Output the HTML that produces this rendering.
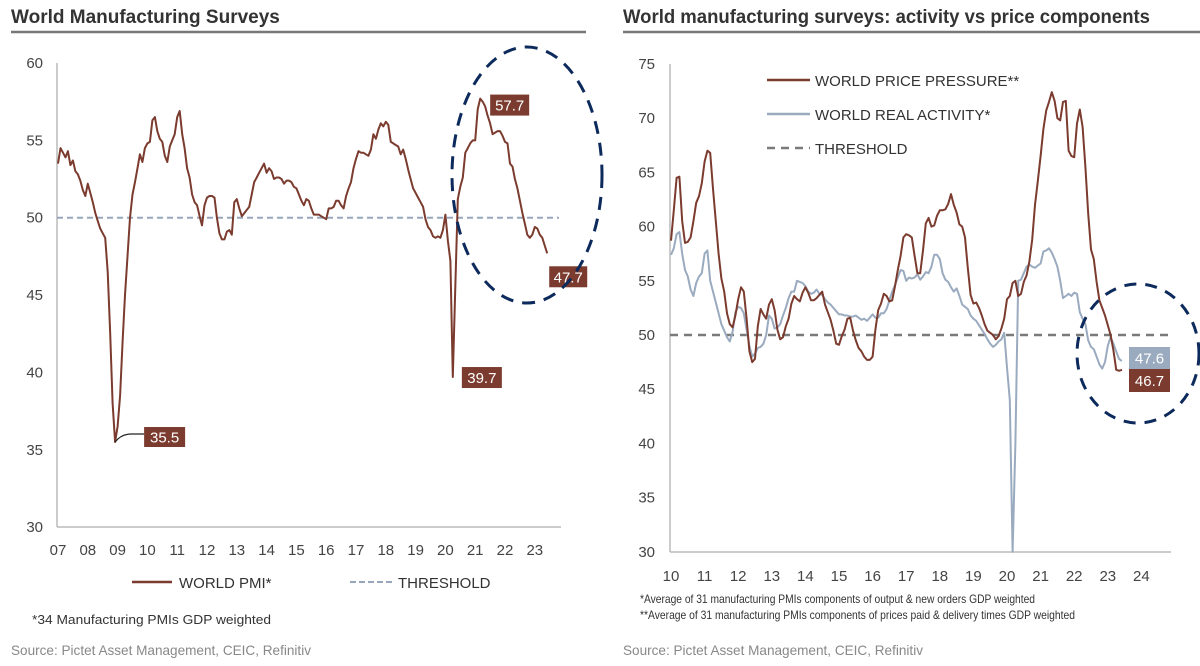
<!DOCTYPE html>
<html><head><meta charset="utf-8"><style>
html,body{margin:0;padding:0;background:#fff;}
svg{display:block;font-family:"Liberation Sans",sans-serif;}
</style></head><body>
<svg id="root" width="1200" height="666" viewBox="0 0 1200 666">
<g id="left">
<text x="11" y="23" font-size="19" font-weight="bold" fill="#333">World Manufacturing Surveys</text>
<line x1="11" y1="32" x2="586" y2="32" stroke="#777" stroke-width="2.5"/>
<line x1="57" y1="63" x2="57" y2="527" stroke="#bbb" stroke-width="1.5"/>
<line x1="57" y1="527" x2="561" y2="527" stroke="#bbb" stroke-width="1.5"/>
<g id="lyt"></g>
<g id="lxt"></g>
<line id="lthr" stroke="#97a6bb" stroke-width="2" stroke-dasharray="6,4"/>
<path id="lpmi" fill="none" stroke="#7b3b2e" stroke-width="2" stroke-linejoin="round"/>
<g id="llab"></g>
<ellipse cx="527" cy="175" rx="75" ry="128" fill="none" stroke="#0d2a5c" stroke-width="3" stroke-dasharray="13,9"/>
<line x1="132" y1="582" x2="172" y2="582" stroke="#7b3b2e" stroke-width="2.5"/>
<text x="179" y="588" font-size="15" fill="#333">WORLD PMI*</text>
<line x1="350" y1="582" x2="392" y2="582" stroke="#97a6bb" stroke-width="2" stroke-dasharray="6,3"/>
<text x="398" y="588" font-size="15" fill="#333">THRESHOLD</text>
<text x="32" y="624" font-size="13" fill="#333" textLength="239" lengthAdjust="spacingAndGlyphs">*34 Manufacturing PMIs GDP weighted</text>
<text x="11" y="655" font-size="14" fill="#888" textLength="300" lengthAdjust="spacingAndGlyphs">Source: Pictet Asset Management, CEIC, Refinitiv</text>
</g>
<g id="right">
<text x="623" y="23" font-size="19" font-weight="bold" fill="#333" textLength="527" lengthAdjust="spacingAndGlyphs">World manufacturing surveys: activity vs price components</text>
<line x1="623" y1="32" x2="1200" y2="32" stroke="#777" stroke-width="2.5"/>
<line x1="670" y1="64" x2="670" y2="552" stroke="#bbb" stroke-width="1.5"/>
<line x1="670" y1="552" x2="1171" y2="552" stroke="#bbb" stroke-width="1.5"/>
<g id="ryt"></g>
<g id="rxt"></g>
<line id="rthr" stroke="#7a7a7a" stroke-width="2.5" stroke-dasharray="8,6"/>
<path id="ract" fill="none" stroke="#9aaabf" stroke-width="2" stroke-linejoin="round"/>
<path id="rprice" fill="none" stroke="#7b3b2e" stroke-width="2" stroke-linejoin="round"/>
<g id="rlab"></g>
<ellipse cx="1138" cy="353.5" rx="61" ry="69.5" fill="none" stroke="#0d2a5c" stroke-width="3" stroke-dasharray="12,9"/>
<line x1="767" y1="80" x2="810" y2="80" stroke="#7b3b2e" stroke-width="2.5"/>
<text x="815" y="86" font-size="15" fill="#333">WORLD PRICE PRESSURE**</text>
<line x1="767" y1="114" x2="810" y2="114" stroke="#9aaabf" stroke-width="2.5"/>
<text x="815" y="120" font-size="15" fill="#333">WORLD REAL ACTIVITY*</text>
<line x1="767" y1="148" x2="810" y2="148" stroke="#7a7a7a" stroke-width="2.5" stroke-dasharray="8,6"/>
<text x="815" y="154" font-size="15" fill="#333">THRESHOLD</text>
<text x="640" y="603" font-size="12" fill="#333" textLength="395" lengthAdjust="spacingAndGlyphs">*Average of 31 manufacturing PMIs components of output &amp; new orders GDP weighted</text>
<text x="640" y="619" font-size="12" fill="#333" textLength="435" lengthAdjust="spacingAndGlyphs">**Average of 31 manufacturing PMIs components of prices paid &amp; delivery times GDP weighted</text>
<text x="623" y="655" font-size="14" fill="#888" textLength="300" lengthAdjust="spacingAndGlyphs">Source: Pictet Asset Management, CEIC, Refinitiv</text>
</g>
</svg>
<script>
// Left chart data: monthly from Jan 2007
const pmiStartYear = 2007;
const pmiValues = [53.5,54.5,54.2,53.9,54.3,53.4,53.7,53.0,52.8,52.4,51.8,51.4,
52.2,51.6,51.0,50.3,49.8,49.3,49.0,48.7,46.5,42.5,38.0,35.5,
36.5,38.5,42.0,45.0,47.5,50.0,51.5,52.3,53.2,54.1,53.6,54.5,
54.8,54.9,56.3,56.5,55.6,55.1,54.9,54.0,53.6,54.6,55.0,55.4,
56.5,56.9,55.4,54.5,53.2,52.6,51.5,51.0,50.8,50.1,49.5,50.8,
51.3,51.4,51.4,51.3,50.0,49.0,48.6,48.6,49.1,49.2,48.9,51.0,
51.2,50.6,50.1,50.3,50.5,50.7,51.5,52.3,52.6,52.9,53.2,53.5,
52.9,53.2,53.0,52.5,52.6,52.6,52.5,52.2,52.4,52.4,52.3,52.0,
51.9,51.5,51.1,50.8,51.2,51.1,50.6,50.2,50.2,50.2,50.1,50.0,
49.9,50.6,50.6,50.7,51.1,51.1,50.8,50.6,51.4,51.9,52.3,53.2,
53.8,54.3,54.2,54.2,54.1,54.0,54.4,55.4,55.1,55.7,56.1,55.9,
56.2,56.0,54.9,54.8,54.7,54.6,54.1,54.4,53.8,53.1,52.5,51.9,
51.6,51.3,51.0,50.7,49.9,49.4,49.2,48.8,48.7,48.8,48.7,49.2,
50.2,48.5,47.2,39.7,45.5,51.2,52.0,52.6,54.2,54.5,54.8,55.0,
55.0,57.0,57.7,57.5,57.2,56.6,56.1,55.4,55.5,55.6,55.6,55.3,
54.9,54.8,53.5,53.3,52.5,51.9,51.1,50.3,49.6,48.9,48.7,48.9,
49.4,49.3,48.9,48.7,48.2,47.7];
const pmiYTicks = [30,35,40,45,50,55,60];
const pmiXLabels = ["07","08","09","10","11","12","13","14","15","16","17","18","19","20","21","22","23"];
const pmiThreshold = 50;

// Right chart data: monthly from Jan 2010
const compStartYear = 2010;
const priceValues = [58.7,61.5,64.5,64.6,60.5,58.5,58.6,59.0,60.5,62.2,62.8,64.0,
66.0,67.0,66.8,63.5,60.5,57.5,55.2,54.0,52.0,51.0,50.7,51.8,
53.3,54.4,54.0,51.5,48.5,47.5,47.8,50.8,52.4,51.9,51.5,52.8,
53.3,52.3,50.5,49.6,49.8,50.8,51.5,52.9,53.6,53.3,53.1,53.9,
54.4,53.9,53.2,53.2,53.4,53.7,54.0,52.8,52.1,51.4,50.4,49.2,
49.1,49.9,50.5,51.5,51.6,50.4,49.5,48.8,48.5,48.0,47.7,47.7,
48.0,50.5,52.3,52.9,53.8,53.6,53.1,53.2,54.5,56.0,57.3,59.0,
59.3,59.2,59.0,57.3,55.7,55.7,57.8,60.3,60.8,60.0,60.1,61.0,
61.5,61.5,61.6,62.1,63.0,62.0,61.3,60.2,60.0,59.0,56.2,53.7,
52.9,53.0,52.5,51.8,51.0,50.4,50.2,50.0,49.6,49.9,50.6,51.5,
53.3,53.6,54.8,55.0,53.6,53.8,54.9,55.5,56.8,58.8,62.0,64.2,
66.5,69.0,70.7,71.5,72.4,71.6,70.0,69.8,71.5,71.6,67.0,66.5,
66.4,69.5,70.8,69.2,65.5,61.2,57.9,57.0,54.9,53.2,52.5,51.8,
50.9,50.0,48.6,46.8,46.7];
const activityValues = [57.4,58.0,59.3,59.5,57.5,56.0,55.4,54.2,53.6,54.8,55.4,55.7,
57.5,57.8,55.0,54.0,53.0,52.0,51.0,50.4,49.8,49.4,50.3,52.1,
52.6,52.5,52.0,50.5,49.0,48.0,48.3,48.8,48.9,49.2,50.0,51.8,
51.5,50.6,50.7,51.0,51.8,52.5,53.4,54.0,54.0,55.0,54.9,54.8,
54.5,54.0,53.8,53.9,54.2,53.8,53.7,53.3,53.0,52.8,52.5,52.2,
51.9,51.9,51.8,51.8,51.7,51.7,51.8,51.6,51.4,51.5,51.3,51.6,
51.9,51.6,51.6,52.0,52.0,52.4,53.2,54.0,54.6,55.3,56.0,55.9,
55.0,55.3,55.2,55.3,55.6,55.1,55.4,55.8,55.7,56.3,57.4,57.4,
57.0,55.7,55.1,54.9,54.4,54.0,54.3,53.6,52.8,52.6,52.4,51.8,
51.5,51.3,50.9,50.5,50.1,49.6,49.2,48.9,49.1,49.4,49.6,50.2,
47.0,44.0,30.0,40.0,55.0,55.1,55.7,56.3,56.5,56.3,56.2,56.4,
56.6,57.7,57.8,58.0,57.6,57.0,56.3,55.0,53.4,53.6,53.8,53.6,
53.9,53.8,52.1,51.5,51.0,49.5,48.9,48.7,48.0,47.3,46.9,47.5,
49.0,49.8,49.2,48.5,47.8,47.6];
const compYTicks = [30,35,40,45,50,55,60,65,70,75];
const compXLabels = ["10","11","12","13","14","15","16","17","18","19","20","21","22","23","24"];
const compThreshold = 50;

const NS = "http://www.w3.org/2000/svg";
function mk(tag, attrs, parent){ const e=document.createElementNS(NS,tag); for(const k in attrs) e.setAttribute(k,attrs[k]); parent.appendChild(e); return e; }

// Left scales
const lx = i => 58 + i*29.8/12;
const lyr = y => 58 + (y)*29.8;
const ly = v => 63 + (60 - v)*15.47;
// Right scales
const rx = i => 671 + i*2.8;
const rYr = y => 671 + y*33.6;
const ry = v => 64 + (75 - v)*10.84;

// Left ticks
const lyt = document.getElementById('lyt');
pmiYTicks.forEach(v=>{
  const t = mk('text',{x:43,y:ly(v)+5,'text-anchor':'end','font-size':15,fill:'#444'},lyt);
  t.textContent = v;
  
  
});
const lxt = document.getElementById('lxt');
pmiXLabels.forEach((s,i)=>{
  const t = mk('text',{x:lyr(i),y:555,'text-anchor':'middle','font-size':15,fill:'#444'},lxt);
  t.textContent = s;
  
  
});
const lthr = document.getElementById('lthr');
lthr.setAttribute('x1',57); lthr.setAttribute('x2',559);
lthr.setAttribute('y1',ly(pmiThreshold)); lthr.setAttribute('y2',ly(pmiThreshold));
document.getElementById('lpmi').setAttribute('d', pmiValues.map((v,i)=>(i?'L':'M')+lx(i).toFixed(1)+','+ly(v).toFixed(1)).join(''));

function box(parent, x, y, w, h, fill, txt, name){
  const g = mk('g',{},parent);
  
  
  mk('rect',{x:x,y:y,width:w,height:h,fill:fill},g);
  const t = mk('text',{x:x+w/2,y:y+h/2+5.5,'text-anchor':'middle','font-size':15,fill:'#fff'},g);
  t.textContent = txt;
}
const llab = document.getElementById('llab');
// peak, covid low, GFC low, last
let iMax=0; pmiValues.forEach((v,i)=>{ if(i>150 && v>pmiValues[iMax]) iMax=i; });
let iGfc=0; for(let i=0;i<60;i++) if(pmiValues[i]<pmiValues[iGfc]) iGfc=i;
let iCov=150; for(let i=150;i<pmiValues.length;i++) if(pmiValues[i]<pmiValues[iCov]) iCov=i;
const iLast = pmiValues.length-1;
box(llab, lx(iMax)+10, ly(pmiValues[iMax])-4, 39, 21, '#7b3b2e', pmiValues[iMax].toFixed(1), 'label-peak');
box(llab, lx(iLast)+2, ly(pmiValues[iLast])+13, 38, 21, '#7b3b2e', pmiValues[iLast].toFixed(1), 'label-latest');
box(llab, lx(iCov)+9, ly(pmiValues[iCov])-10, 40, 21, '#7b3b2e', pmiValues[iCov].toFixed(1), 'label-covid-low');
const gx = lx(iGfc), gy = ly(pmiValues[iGfc]);
const leader = mk('path',{d:`M${gx},${gy} Q${gx+6},${gy-8} ${gx+16},${gy-8} L${gx+29},${gy-8}`,fill:'none',stroke:'#222','stroke-width':1.2},llab);


box(llab, gx+29, gy-15, 41, 20, '#7b3b2e', pmiValues[iGfc].toFixed(1), 'label-gfc-low');

// Right ticks
const ryt = document.getElementById('ryt');
compYTicks.forEach(v=>{
  const t = mk('text',{x:655,y:ry(v)+5,'text-anchor':'end','font-size':15,fill:'#444'},ryt);
  t.textContent = v;
  
  
});
const rxt = document.getElementById('rxt');
compXLabels.forEach((s,i)=>{
  const t = mk('text',{x:rYr(i),y:581,'text-anchor':'middle','font-size':15,fill:'#444'},rxt);
  t.textContent = s;
  
  
});
const rthr = document.getElementById('rthr');
rthr.setAttribute('x1',670); rthr.setAttribute('x2',1170);
rthr.setAttribute('y1',ry(compThreshold)); rthr.setAttribute('y2',ry(compThreshold));
document.getElementById('ract').setAttribute('d', activityValues.map((v,i)=>(i?'L':'M')+rx(i).toFixed(1)+','+ry(v).toFixed(1)).join(''));
const pl = priceValues.length-1;
document.getElementById('rprice').setAttribute('d', priceValues.map((v,i)=>(i?'L':'M')+rx(i).toFixed(1)+','+ry(v).toFixed(1)).join('') + 'L'+(rx(pl)+3).toFixed(1)+','+(ry(priceValues[pl])-1).toFixed(1));
const rlab = document.getElementById('rlab');
box(rlab, 1129, 347, 41, 22, '#9aaabf', activityValues[activityValues.length-1].toFixed(1), 'label-activity-latest');
box(rlab, 1129, 369, 41, 23, '#7b3b2e', priceValues[pl].toFixed(1), 'label-price-latest');
</script>
</body></html>
